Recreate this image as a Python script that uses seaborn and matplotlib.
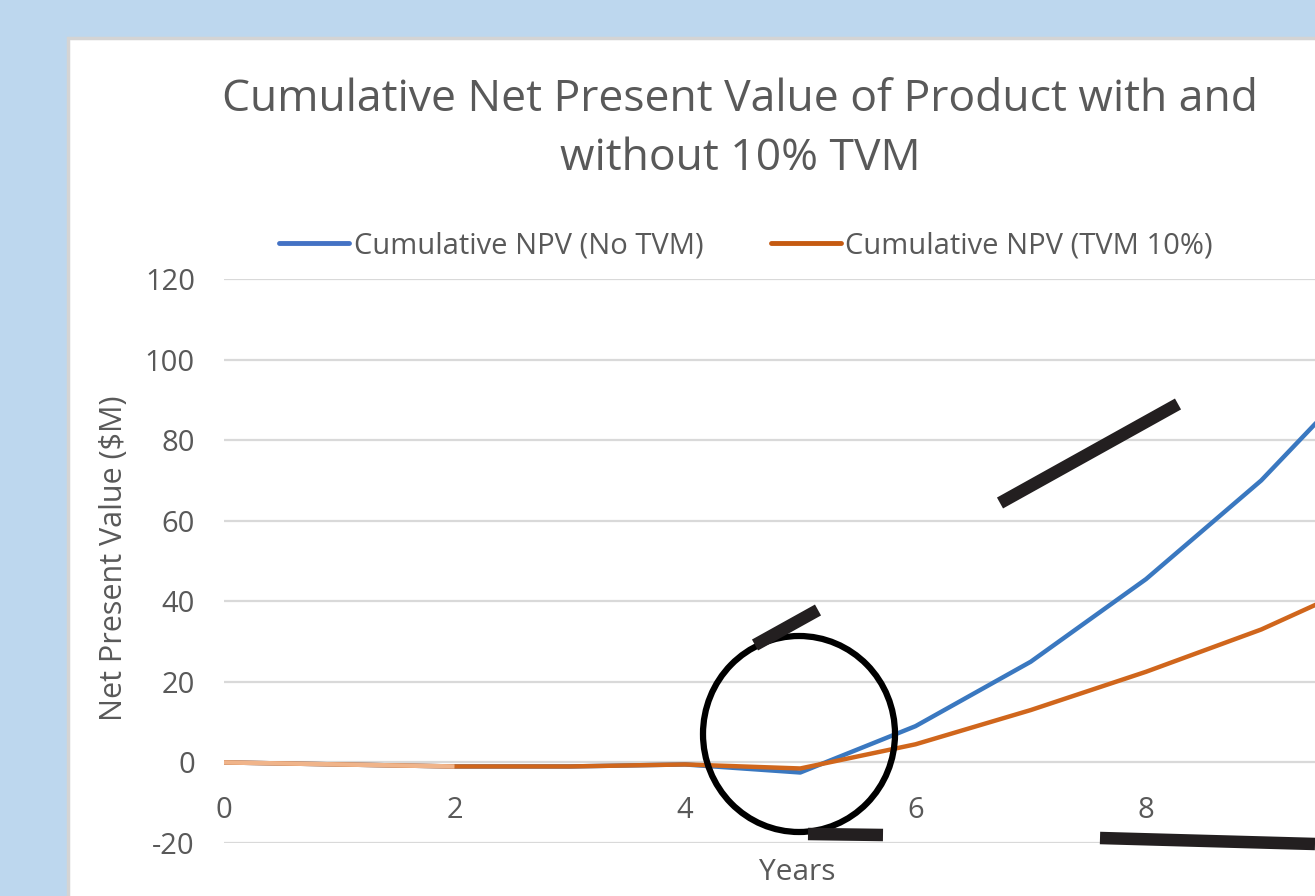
import matplotlib
matplotlib.use("Agg")
import matplotlib.pyplot as plt
import seaborn as sns
import pandas as pd
from matplotlib.patches import Rectangle, Ellipse
from matplotlib.lines import Line2D

# ---- data ----
years = [0, 1, 2, 3, 4, 5, 6, 7, 8, 9, 10]
npv_no_tvm = [0, -0.5, -1, -1, -0.5, -2.5, 9, 25, 45.5, 70, 100]
npv_tvm10 = [0, -0.5, -1, -1, -0.5, -1.5, 4.5, 13, 22.5, 33, 46]
series_names = ["Cumulative NPV (No TVM)", "Cumulative NPV (TVM 10%)"]
y_ticks = [-20, 0, 20, 40, 60, 80, 100, 120]
x_ticks = [0, 2, 4, 6, 8]

title = "Cumulative Net Present Value of Product with and\nwithout 10% TVM"

df = pd.DataFrame({
    "Years": years * 2,
    "NPV": npv_no_tvm + npv_tvm10,
    "Series": [series_names[0]] * len(years) + [series_names[1]] * len(years),
})

sns.set_theme(style="white")
plt.rcParams["font.family"] = ["Open Sans", "DejaVu Sans"]
plt.rcParams["axes.unicode_minus"] = False

W, H = 1315, 896
fig = plt.figure(figsize=(W / 100, H / 100), dpi=100, facecolor="#BDD7EE")

def fx(px):
    return px / W

def fy(py):
    return 1 - py / H

# white chart panel
fig.patches.append(Rectangle((fx(68), -0.01), 1 - fx(68) + 0.01, fy(38) + 0.01, transform=fig.transFigure,
                             facecolor="white", edgecolor="#D4D4D4", linewidth=2.5, zorder=-5))

px_per_year = (1146 - 224) / 8.0
x_left, x_right = 224, W
y_top, y_bot = 279, 843
ax = fig.add_axes([fx(x_left), fy(y_bot), fx(x_right - x_left), fy(y_top) - fy(y_bot)])
ax.set_facecolor("none")
ax.set_zorder(1)

blue = "#3A78C0"
orange = "#D0661C"
sns.lineplot(data=df, x="Years", y="NPV", hue="Series", palette=[blue, orange],
             linewidth=3.2, ax=ax, legend=False, zorder=3)
# lighter start of the orange line
ax.plot(years[:3], npv_tvm10[:3], color="#F0B48A", linewidth=3.2, zorder=4,
        solid_capstyle="butt")

ax.set_xlim(0, (x_right - x_left) / px_per_year)
ax.set_ylim(-20, 120)
ax.set_yticks(y_ticks)
ax.set_xticks(x_ticks)
ax.grid(axis="y", color="#D9D9D9", linewidth=1.6, zorder=0)
ax.grid(axis="x", visible=False)
for s in ["top", "right", "left"]:
    ax.spines[s].set_visible(False)
ax.spines["bottom"].set_position(("data", 0))
ax.spines["bottom"].set_visible(False)
ax.tick_params(axis="x", length=0, pad=24, labelsize=21, labelcolor="#595959")
ax.tick_params(axis="y", length=0, pad=21, labelsize=21, labelcolor="#595959")
ax.set_xlabel("")
ax.set_ylabel("")

fig.text(fx(797), fy(872), "Years", ha="center", va="center", fontsize=21.5, color="#595959")
fig.text(fx(114), fy(558), "Net Present Value ($M)", ha="center", va="center",
         rotation=90, fontsize=22, color="#595959")
fig.text(fx(740), fy(129), title, ha="center", va="center", fontsize=32,
         color="#595959", linespacing=1.42)

handles = [Line2D([], [], color="#4472C4", linewidth=3.5),
           Line2D([], [], color="#C55A11", linewidth=3.5)]
fig.legend(handles, series_names, loc="center", bbox_to_anchor=(fx(746), fy(246)),
           ncol=2, frameon=False, fontsize=21, handlelength=2.4, handletextpad=0.15,
           columnspacing=2.3, labelcolor="#595959")

# hand-drawn annotation marks
ink = "#231F20"
fig.add_artist(Ellipse((fx(799), fy(734)), 192 / W, 196 / H, transform=fig.transFigure,
                       fill=False, edgecolor="black", linewidth=4.5, zorder=10))
strokes = [((755, 645), (818, 610)), ((808, 834), (883, 835)),
           ((1000, 503), (1178, 404)), ((1100, 838), (1315, 844))]
for (x0, y0), (x1, y1) in strokes:
    fig.add_artist(Line2D([fx(x0), fx(x1)], [fy(y0), fy(y1)], transform=fig.transFigure,
                          color=ink, linewidth=9, solid_capstyle="butt", zorder=11))

fig.savefig("out.png", dpi=100, facecolor=fig.get_facecolor())
